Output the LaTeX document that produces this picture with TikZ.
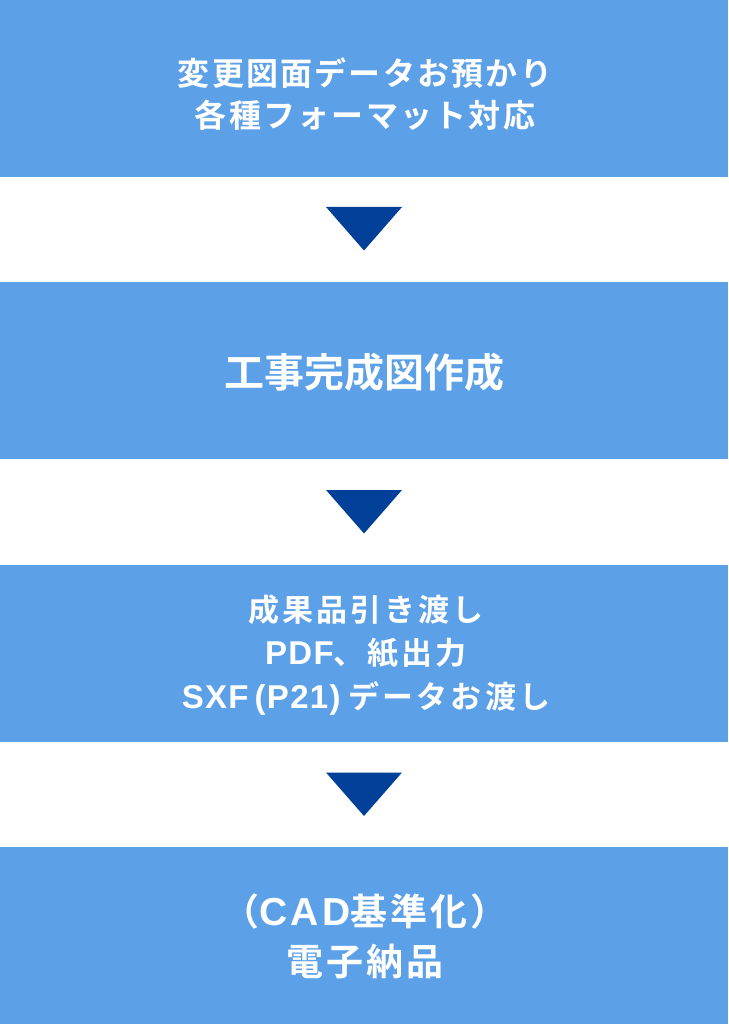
\documentclass[tikz,border=0pt]{standalone}
\usepackage{fontspec}
\newfontfamily\jp{Noto Sans CJK JP}[BoldFont={* Bold}]
\newfontfamily\lat{Liberation Sans}[BoldFont={* Bold}]
\newcommand{\latA}[1]{{\lat\bfseries\fontsize{33}{43.5}\selectfont\addfontfeature{LetterSpace=4}#1}}
\newcommand{\latB}[1]{{\lat\bfseries\fontsize{39}{50}\selectfont\addfontfeature{LetterSpace=9}#1}}
\definecolor{boxblue}{HTML}{5CA0E8}
\definecolor{triblue}{HTML}{004099}
\begin{document}
\begin{tikzpicture}[x=1pt,y=-1pt,
  stagebox/.style={fill=boxblue,draw=none},
  tri/.style={fill=triblue,draw=none},
  lbl/.style={text=white,align=center,inner sep=0pt,font=\jp\bfseries}]
\useasboundingbox (0,0) rectangle (728,1024);
\fill[white] (0,0) rectangle (728,1024);
% boxes
\path[stagebox] (0,0) rectangle (728,177);
\path[stagebox] (0,282) rectangle (728,459);
\path[stagebox] (0,564.5) rectangle (728,741.5);
\path[stagebox] (0,847) rectangle (728,1024);
% triangles
\path[tri] (326,207) -- (402,207) -- (364,250.5) -- cycle;
\path[tri] (326,490) -- (402,490) -- (364,533.5) -- cycle;
\path[tri] (326,772.5) -- (402,772.5) -- (364,816) -- cycle;
% labels
\node[lbl,font=\jp\bfseries\fontsize{32}{42}\selectfont\addfontfeature{LetterSpace=7}] (t1) at (365,94) {変更図面データお預かり\\各種フォーマット対応};
\node[lbl,font=\jp\bfseries\fontsize{40}{50}\selectfont] (t2) at (364,372) {工事完成図作成};
\node[lbl,font=\jp\bfseries\fontsize{31}{43.5}\selectfont\addfontfeature{LetterSpace=10}] (t3) at (366,655) {成果品引き渡し\\\latA{PDF}、紙出力\\\latA{SXF}\hspace{6pt}\latA{(P21)}\hspace{8pt}データお渡し};
\node[lbl,font=\jp\bfseries\fontsize{37}{50}\selectfont\addfontfeature{LetterSpace=8}] (t4) at (365,936) {（\latB{CAD}基準化）\\電子納品};
\end{tikzpicture}
\end{document}
